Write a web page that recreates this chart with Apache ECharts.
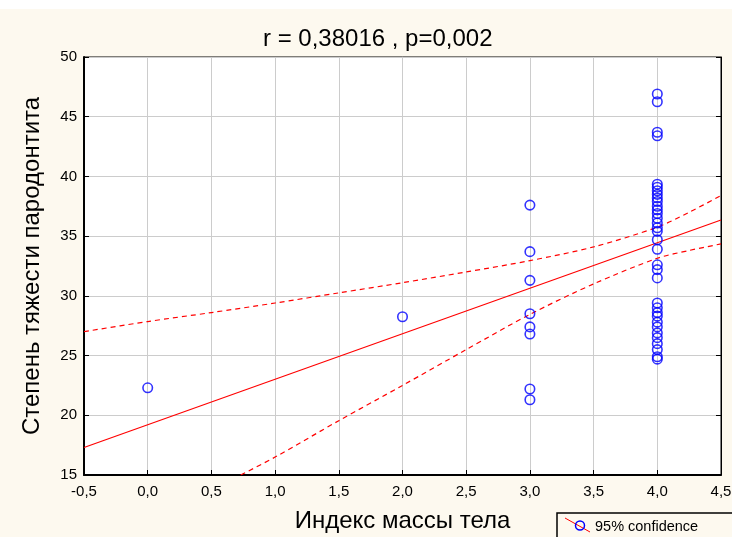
<!DOCTYPE html>
<html lang="ru">
  <head>
    <meta charset="UTF-8" />
    <title>Степень тяжести пародонтита</title>
    <script src="https://cdn.jsdelivr.net/npm/echarts@6/dist/echarts.min.js"></script>
    <style>
      html, body { margin: 0; padding: 0; background: #fdf9ef; }
      #chart { width: 732px; height: 537px; }
    </style>
  </head>
  <body>
    <div id="chart"></div>
    <script>
      // точки: индекс массы тела / степень тяжести
      var bmiX = [
        0, 2,
        3, 3, 3, 3, 3, 3, 3, 3,
        4, 4, 4, 4,
        4, 4, 4, 4, 4, 4, 4, 4, 4, 4, 4, 4, 4, 4, 4,
        4, 4, 4,
        4, 4, 4, 4, 4, 4, 4, 4, 4, 4, 4, 4
      ];
      var severityY = [
        22.3, 28.25,
        37.6, 33.7, 31.3, 28.5, 27.4, 26.8, 22.2, 21.3,
        46.9, 46.25, 43.7, 43.4,
        39.35, 39.1, 38.8, 38.5, 38.2, 37.9, 37.5, 37.2, 36.9, 36.5, 36.1, 35.7, 35.4, 34.7, 33.9,
        32.6, 32.2, 31.5,
        29.4, 29.0, 28.6, 28.3, 27.8, 27.4, 26.9, 26.5, 26.0, 25.5, 24.9, 24.7
      ];
      // линия регрессии
      var fitX = [-0.5, 4.5];
      var fitY = [17.3, 36.35];
      // 95% доверительный интервал
      var upperX = [-0.5, 0, 0.5, 1, 1.5, 2, 2.5, 3, 3.5, 4, 4.25, 4.5];
      var upperY = [27.0, 27.85, 28.6, 29.4, 30.25, 31.1, 32.0, 32.95, 34.1, 35.75, 37.0, 38.4];
      var lowerX = [0.73, 1, 1.5, 2, 2.5, 3, 3.5, 4, 4.25, 4.5];
      var lowerY = [15, 16.5, 19.55, 22.5, 25.5, 28.45, 31.0, 33.15, 33.8, 34.35];

      function pairs(xs, ys) {
        return xs.map(function (x, i) { return [x, ys[i]]; });
      }

      var chart = echarts.init(document.getElementById("chart"));
      var font = "Liberation Sans, Arial, sans-serif";

      var option = {
        backgroundColor: "#fdf9ef",
        animation: false,
        title: {
          text: "r = 0,38016 , p=0,002",
          left: 258,
          top: 22,
          textStyle: { fontFamily: font, fontSize: 24, fontWeight: "normal", color: "#000" }
        },
        grid: {
          left: 84, right: 11, top: 57, bottom: 62,
          containLabel: false, outerBoundsMode: "none",
          show: true, backgroundColor: "#fff", borderColor: "#000", borderWidth: 1
        },
        xAxis: {
          type: "value", min: -0.5, max: 4.5, interval: 0.5,
          name: "Индекс массы тела", nameLocation: "middle", nameGap: 34,
          nameTextStyle: { fontFamily: font, fontSize: 24, color: "#000" },
          axisLine: { onZero: false, lineStyle: { color: "#000", width: 2 } },
          axisTick: { inside: true, length: 5, lineStyle: { color: "#000" } },
          axisLabel: {
            fontFamily: font, fontSize: 15, color: "#000", margin: 9,
            formatter: function (v) { return v.toFixed(1).replace(".", ","); }
          },
          splitLine: { lineStyle: { color: "#cccccc", width: 1 } }
        },
        yAxis: [{
          type: "value", min: 15, max: 50, interval: 5,
          name: "Степень тяжести пародонтита", nameLocation: "middle", nameGap: 40,
          nameTextStyle: { fontFamily: font, fontSize: 24, color: "#000" },
          axisLine: { onZero: false, lineStyle: { color: "#000", width: 2 } },
          axisTick: { inside: true, length: 5, lineStyle: { color: "#000" } },
          axisLabel: { fontFamily: font, fontSize: 15, color: "#000", margin: 7 },
          splitLine: { lineStyle: { color: "#cccccc", width: 1 } }
        }, {
          type: "value", min: 15, max: 50, interval: 5, position: "right",
          axisLine: { show: true, onZero: false, lineStyle: { color: "#000", width: 1 } },
          axisTick: { inside: true, length: 5, lineStyle: { color: "#000" } },
          axisLabel: { show: false },
          splitLine: { show: false }
        }],
        series: [
          {
            type: "line", data: pairs(fitX, fitY), symbol: "none",
            lineStyle: { color: "#ff0000", width: 1.2 }, z: 3
          },
          {
            type: "line", data: pairs(upperX, upperY), symbol: "none", smooth: 0.3,
            lineStyle: { color: "#ff0000", width: 1.2, type: [5, 4] }, z: 3
          },
          {
            type: "line", data: pairs(lowerX, lowerY), symbol: "none", smooth: 0.3,
            lineStyle: { color: "#ff0000", width: 1.2, type: [5, 4] }, z: 3
          },
          {
            type: "scatter", data: pairs(bmiX, severityY),
            symbol: "circle", symbolSize: 9.5,
            itemStyle: { color: "rgba(0,0,0,0)", borderColor: "#0000ff", borderWidth: 1.6 }, z: 4
          }
        ],
        graphic: [
          { type: "rect", left: 0, top: 0, shape: { width: 732, height: 9 }, style: { fill: "#fff" } },
          { type: "rect", shape: { x: 557, y: 513, width: 180, height: 30 },
            style: { fill: "#fdf9ef", stroke: "#000", lineWidth: 1.5 } },
          { type: "line", shape: { x1: 565, y1: 518, x2: 590, y2: 532 },
            style: { stroke: "#ff0000", lineWidth: 1 } },
          { type: "circle", shape: { cx: 580, cy: 525.5, r: 4.5 },
            style: { fill: "none", stroke: "#0000ff", lineWidth: 1.5 } },
          { type: "text", x: 595, y: 526.5,
            style: { text: "95% confidence", font: "14.5px " + font, fill: "#000", verticalAlign: "middle" } }
        ]
      };
      chart.setOption(option);
    </script>
  </body>
</html>
